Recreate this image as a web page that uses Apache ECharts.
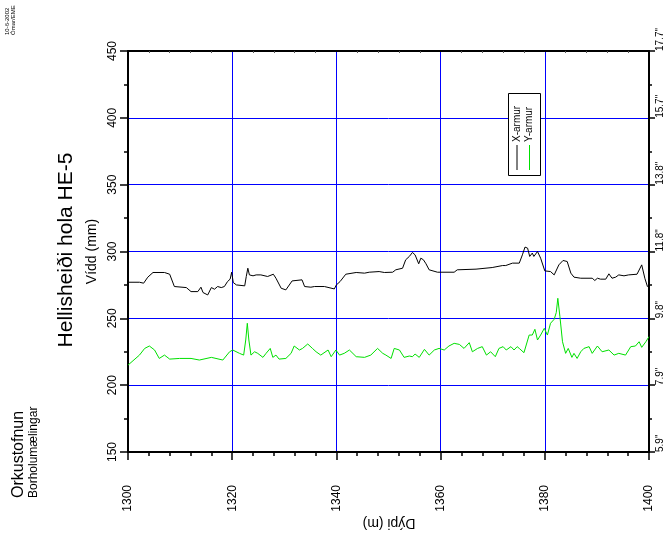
<!DOCTYPE html>
<html>
<head>
<meta charset="utf-8">
<script src="https://cdn.jsdelivr.net/npm/echarts@6/dist/echarts.min.js"></script>
<style>
  html, body { margin: 0; padding: 0; background: #fff; }
  #chart { width: 665px; height: 537px; }
</style>
</head>
<body>
<div id="chart"></div>
<script>
// Caliper log, Hellisheiði well HE-5: arm readings (mm) against depth (m)
const seriesNames = ['X-armur', 'Y-armur'];

const xArmur = [
  [1300,277],[1302.2,277],[1303,276.3],[1303.8,280.8],[1304.8,284.3],[1307,284.3],[1308,283],
  [1308.9,273.8],[1311.2,273],[1312.1,270],[1313.4,270],[1314,273.3],[1314.4,269.3],[1315.3,267.5],
  [1316,273],[1316.6,271.8],[1317.2,273.8],[1317.9,273],[1318.5,273.8],[1319.1,277.5],[1319.6,279.3],
  [1319.9,284.5],[1320.2,276.8],[1320.8,275],[1322.4,274.3],[1322.7,281.3],[1323,287.5],[1323.3,282.5],
  [1324,281.8],[1324.6,282.5],[1325.5,282.5],[1326.8,281.3],[1327.9,283],[1328.4,280],[1329.4,272.5],
  [1330.3,271.3],[1331.5,278],[1333.4,278.8],[1333.9,273.8],[1335.1,273.3],[1335.8,273.8],[1337.7,273.8],
  [1339.6,272],[1340,275],[1340.7,277.5],[1341.8,283],[1343.8,284.3],[1345.4,283.8],[1346.3,284.5],
  [1348.2,285],[1349.2,284.3],[1350.8,284.5],[1351.4,286.3],[1352.7,287.5],[1353.3,293.8],[1354,296.3],
  [1354.6,299.3],[1355.1,297.5],[1355.8,290.8],[1356.2,295],[1356.7,293.8],[1357.2,290.8],[1357.8,286.3],
  [1359.4,284.5],[1362.6,284.5],[1363.2,286.3],[1366.8,286.8],[1369.9,288],[1371.9,289.5],[1372.5,289.5],
  [1372.8,290.5],[1373.8,291.3],[1375.1,291.3],[1375.7,297.5],[1376.2,303.3],[1376.7,302.5],[1377.1,296.3],
  [1377.6,298.8],[1377.9,296.3],[1378.6,300],[1379.2,295],[1380,285.5],[1381.1,285],[1381.8,282.5],
  [1382.7,290],[1383.5,293.3],[1384.3,292.5],[1385,283.8],[1385.6,280.8],[1386.9,280],[1389.1,280],
  [1389.6,278.3],[1390.1,280],[1390.7,279.3],[1391.7,279.3],[1392.3,283.3],[1392.9,280],[1393.6,280.8],
  [1394.2,282.5],[1395.2,281.8],[1396.1,282.5],[1397.7,283],[1398.6,290],[1399.2,280],[1399.7,273.8],
  [1400,275]
];

const yArmur = [
  [1300,215],[1302.2,222.5],[1303.2,227.5],[1304.1,229.3],[1305.1,226.3],[1306,220],[1307,222.5],
  [1308,219.5],[1309.9,220],[1312.1,220],[1313.7,218.8],[1316,220.8],[1318.2,218.8],[1319.5,225],
  [1320.1,226.3],[1321.4,223.8],[1322.2,222.5],[1322.6,233.8],[1322.9,246.3],[1323.2,233.8],[1323.6,222.5],
  [1324.3,225],[1324.9,223.8],[1325.9,220.8],[1326.5,223.8],[1327.3,227.5],[1327.8,220.8],[1328.4,222.5],
  [1329,219.5],[1330.3,220],[1331.3,223.8],[1331.9,229.3],[1332.9,226.3],[1333.5,227.5],[1334.5,230.8],
  [1335.4,227.5],[1336.1,225],[1337,222.5],[1338.4,226.3],[1339,221.3],[1339.9,226.3],[1340.6,222.5],
  [1341.5,223.8],[1342.5,226.3],[1343.8,221.3],[1345.4,220.8],[1346.6,222.5],[1347.9,227.5],[1348.9,223.8],
  [1349.5,222.5],[1350.5,220],[1351.1,227.5],[1352.1,226.3],[1353,220.8],[1354,221.8],[1354.6,221.3],
  [1355.1,223.3],[1355.9,220.8],[1356.9,226.8],[1357.8,222.5],[1358.8,226.3],[1359.7,227.5],[1360.7,226.3],
  [1361.6,229.3],[1362.6,231.3],[1363.6,230.5],[1364.5,227.5],[1365.5,231.8],[1366.1,225],[1367.1,227.5],
  [1368,228.8],[1368.8,222.5],[1369.6,225],[1370.5,221.3],[1371.2,227.5],[1372,228.8],[1372.6,226.3],
  [1373.5,228.8],[1374.1,226.3],[1374.7,228.8],[1375.1,227.5],[1376,224.3],[1377,237.5],[1377.6,237.5],
  [1378.1,241.8],[1378.6,233.8],[1379.2,237.5],[1379.9,242.5],[1380.5,237.5],[1381.1,246.3],[1381.8,249.3],
  [1382.2,254.3],[1382.5,265],[1382.9,251.3],[1383.4,232.5],[1384,223.8],[1384.5,227.5],[1385.2,220.8],
  [1385.6,223.8],[1386.2,220],[1386.9,225],[1387.5,227.5],[1388.5,228.8],[1389.1,223.8],[1390.1,229.3],
  [1391,225],[1392.3,226.3],[1393.3,222.5],[1394.2,223.8],[1395.5,222.5],[1396.5,228.8],[1397.4,229.3],
  [1398.1,232.5],[1398.6,228.3],[1399.4,232.5],[1400,236.3]
];

// Right-hand scale: the same diameters in inches
const mmTicks = [150, 200, 250, 300, 350, 400, 450];
const inchLabels = ['5.9"', '7.9"', '9.8"', '11.8"', '13.8"', '15.7"', '17.7"'];

const FONT = "'Liberation Sans', Arial, sans-serif";
const BLUE = '#0000ff';

const chart = echarts.init(document.getElementById('chart'), null, { renderer: 'canvas' });

function vtext(x, y, text, size, align) {
  return {
    type: 'text', x: x, y: y, rotation: Math.PI / 2, z: 100,
    style: {
      text: text, fill: '#000', font: size + 'px ' + FONT,
      align: align || 'left', verticalAlign: 'middle'
    }
  };
}

const plain = function (v) { return String(v); };

chart.setOption({
  animation: false,
  backgroundColor: '#fff',
  grid: { left: 128, right: 15, top: 51, bottom: 85, containLabel: false },
  xAxis: [
    {
      type: 'value', position: 'bottom', min: 1300, max: 1400, interval: 20,
      axisLine: { show: true, onZero: false, lineStyle: { color: '#000', width: 2 } },
      axisTick: { show: true, length: 8, lineStyle: { color: '#000', width: 1.5 } },
      minorTick: { show: true, splitNumber: 5, length: 4, lineStyle: { color: '#000', width: 1.5 } },
      splitLine: { show: true, lineStyle: { color: BLUE, width: 1 } },
      axisLabel: {
        rotate: 90, margin: 33, align: 'right', verticalAlign: 'middle',
        fontSize: 12, color: '#000', fontFamily: FONT, formatter: plain
      }
    },
    {
      type: 'value', position: 'top', min: 1300, max: 1400, interval: 20,
      axisLine: { show: true, onZero: false, lineStyle: { color: '#000', width: 2 } },
      axisTick: { show: false, inside: true },
      minorTick: { show: true, splitNumber: 5, length: 2, lineStyle: { color: '#555', width: 1 } },
      splitLine: { show: false },
      axisLabel: { show: false }
    }
  ],
  yAxis: [
    {
      type: 'value', position: 'left', min: 150, max: 450, interval: 50,
      name: 'Vídd (mm)', nameLocation: 'middle', nameGap: 26, nameRotate: 90,
      nameTextStyle: { fontSize: 14, color: '#000', fontFamily: FONT },
      axisLine: { show: true, onZero: false, lineStyle: { color: '#000', width: 2 } },
      axisTick: { show: true, length: 8, lineStyle: { color: '#000', width: 1.5 } },
      minorTick: { show: true, splitNumber: 2, length: 4, lineStyle: { color: '#000', width: 1.5 } },
      splitLine: { show: true, lineStyle: { color: BLUE, width: 1 } },
      axisLabel: {
        rotate: 90, margin: 9, align: 'center', verticalAlign: 'bottom',
        fontSize: 12, color: '#000', fontFamily: FONT, formatter: plain
      }
    },
    {
      type: 'value', position: 'right', min: 150, max: 450, interval: 50,
      axisLine: { show: true, onZero: false, lineStyle: { color: '#000', width: 2 } },
      axisTick: { show: true, length: 6, lineStyle: { color: '#000', width: 1.5 } },
      minorTick: { show: true, splitNumber: 2, length: 3, lineStyle: { color: '#000', width: 1.5 } },
      splitLine: { show: false },
      axisLabel: {
        rotate: 90, margin: 6, align: 'left', verticalAlign: 'top',
        fontSize: 10, color: '#000', fontFamily: FONT,
        formatter: function (v) {
          const i = mmTicks.indexOf(v);
          return i >= 0 ? inchLabels[i] : '';
        }
      }
    }
  ],
  series: [
    {
      name: seriesNames[0], type: 'line', data: xArmur, showSymbol: false,
      lineStyle: { color: '#000', width: 1 }, z: 3
    },
    {
      name: seriesNames[1], type: 'line', data: yArmur, showSymbol: false,
      lineStyle: { color: '#00e000', width: 1 }, z: 3
    }
  ],
  graphic: [
    // header stamps
    vtext(7, 35, '10-6-2002', 6),
    vtext(13, 35, 'Ómar/EME', 6),
    // institution
    vtext(18.5, 498, 'Orkustofnun', 16),
    vtext(34, 498, 'Borholumælingar', 12),
    // title
    vtext(66, 250, 'Hellisheiði hola HE-5', 21, 'center'),
    // depth axis name, printed upside down
    {
      type: 'text', x: 389, y: 523, rotation: Math.PI, z: 100,
      style: { text: 'Dýpi (m)', fill: '#000', font: '14px ' + FONT, align: 'center', verticalAlign: 'middle' }
    },
    // legend box
    {
      type: 'rect', z: 100,
      shape: { x: 508.5, y: 93.5, width: 32, height: 82 },
      style: { fill: '#fff', stroke: '#000', lineWidth: 1 }
    },
    {
      type: 'line', z: 101,
      shape: { x1: 517, y1: 145, x2: 517, y2: 170 },
      style: { stroke: '#000', lineWidth: 1 }
    },
    {
      type: 'line', z: 101,
      shape: { x1: 529.5, y1: 145, x2: 529.5, y2: 170 },
      style: { stroke: '#00e000', lineWidth: 1 }
    },
    vtext(517, 142, seriesNames[0], 10),
    vtext(529.5, 142, seriesNames[1], 10)
  ]
});
</script>
</body>
</html>
